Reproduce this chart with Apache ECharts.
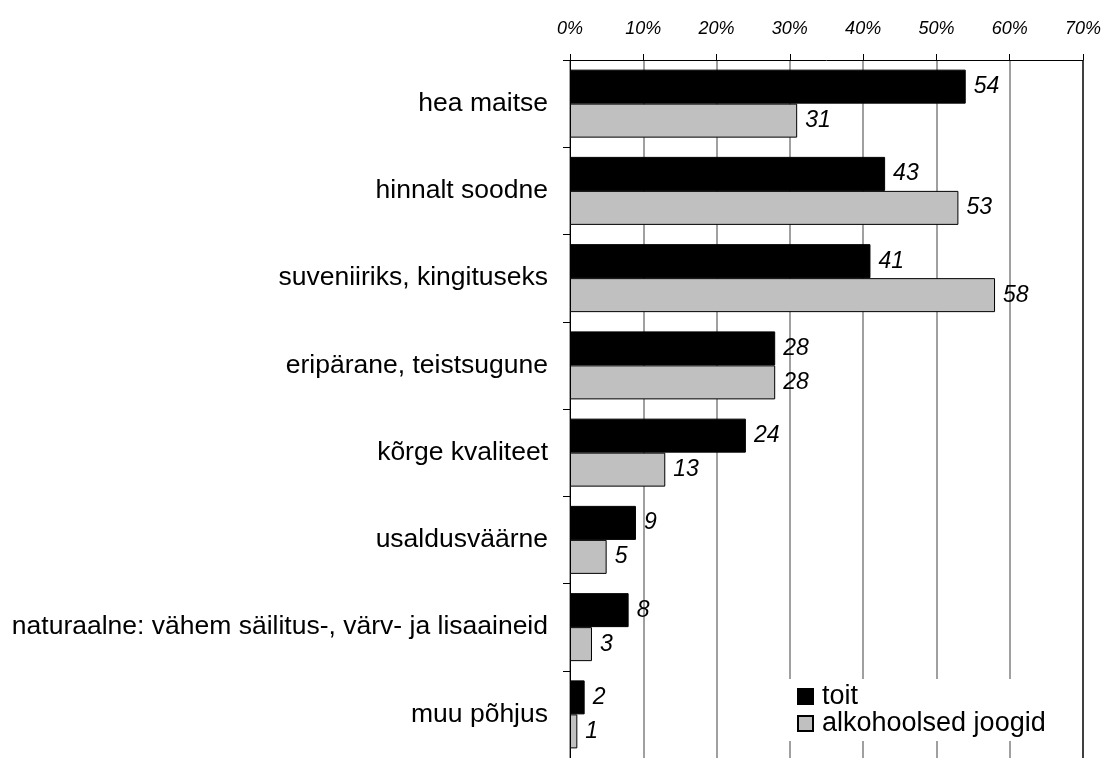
<!DOCTYPE html>
<html>
<head>
<meta charset="utf-8">
<script src="https://cdn.jsdelivr.net/npm/echarts@6/dist/echarts.min.js"></script>
<style>
  html, body { margin: 0; padding: 0; background: #fff; }
  #chart { width: 1104px; height: 758px; }
</style>
</head>
<body>
<div id="chart"></div>
<script>
// Reasons for buying, by product group (% of respondents)
const categories = [
  'hea maitse',
  'hinnalt soodne',
  'suveniiriks, kingituseks',
  'eripärane, teistsugune',
  'kõrge kvaliteet',
  'usaldusväärne',
  'naturaalne: vähem säilitus-, värv- ja lisaaineid',
  'muu põhjus'
];
const toit = [54, 43, 41, 28, 24, 9, 8, 2];
const alkohoolsedJoogid = [31, 53, 58, 28, 13, 5, 3, 1];
const seriesNames = ['toit', 'alkohoolsed joogid'];

const font = 'Liberation Sans, Arial, sans-serif';

const valueLabel = {
  show: true,
  position: 'right',
  distance: 8,
  color: '#000',
  fontFamily: font,
  fontStyle: 'italic',
  fontSize: 23
};

const chart = echarts.init(document.getElementById('chart'), null, { renderer: 'canvas' });
chart.setOption({
  animation: false,
  backgroundColor: '#fff',
  grid: { left: 570, top: 60, width: 513, height: 700, containLabel: false },
  xAxis: {
    type: 'value',
    position: 'top',
    min: 0,
    max: 70,
    interval: 10,
    axisLine: { show: true, lineStyle: { color: '#000', width: 1 } },
    axisTick: { show: true, inside: false, length: 6, lineStyle: { color: '#000' } },
    axisLabel: {
      formatter: '{value}%',
      color: '#000',
      fontFamily: font,
      fontStyle: 'italic',
      fontSize: 18,
      margin: 22
    },
    splitLine: {
      show: true,
      lineStyle: {
        color: ['#808080', '#808080', '#808080', '#808080', '#808080', '#808080', '#808080', '#000'],
        width: 1.5
      }
    }
  },
  yAxis: {
    type: 'category',
    data: categories,
    inverse: true,
    axisLine: { show: true, onZero: false, lineStyle: { color: '#000', width: 1 } },
    axisTick: { show: true, length: 7, lineStyle: { color: '#000' } },
    axisLabel: {
      color: '#000',
      fontFamily: font,
      fontSize: 26.5,
      margin: 22
    }
  },
  legend: {
    data: seriesNames,
    orient: 'vertical',
    left: 786,
    top: 679,
    padding: [4, 26, 4, 11],
    backgroundColor: '#fff',
    icon: 'rect',
    itemWidth: 15,
    itemHeight: 15,
    itemGap: 0,
    textStyle: {
      color: '#000',
      fontFamily: font,
      fontSize: 27,
      lineHeight: 27,
      padding: [0, 0, 0, 4]
    }
  },
  series: [
    {
      name: seriesNames[0],
      type: 'bar',
      data: toit,
      barWidth: 34,
      barGap: '0%',
      itemStyle: { color: '#000', borderColor: '#000', borderWidth: 1 },
      label: valueLabel
    },
    {
      name: seriesNames[1],
      type: 'bar',
      data: alkohoolsedJoogid,
      barWidth: 34,
      barGap: '0%',
      itemStyle: { color: '#c0c0c0', borderColor: '#000', borderWidth: 1 },
      label: valueLabel
    }
  ]
});
</script>
</body>
</html>
